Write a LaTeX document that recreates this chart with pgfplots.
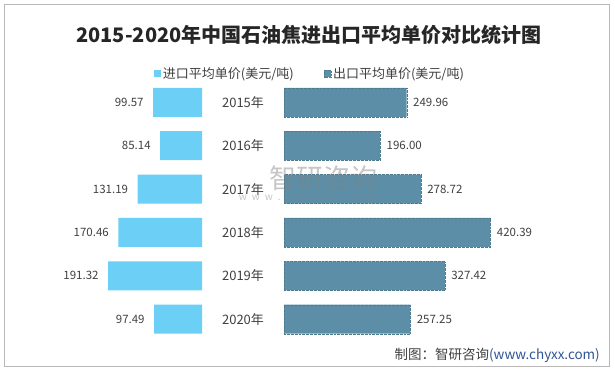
\documentclass[border=0pt]{standalone}
\usepackage{pgfplots}
\pgfplotsset{compat=1.18}
\usepackage{fontspec}
\setmainfont{Noto Sans CJK SC}
\definecolor{lightbar}{RGB}{108,207,246}
\definecolor{darkbar}{RGB}{92,143,167}
\definecolor{txt}{RGB}{64,64,64}
\definecolor{srcblue}{RGB}{47,85,151}
\begin{document}
\begin{tikzpicture}
\path[use as bounding box] (0bp,0bp) rectangle (615bp,371bp);
\draw[gray!55, line width=0.8bp] (4.5bp,4.5bp) rectangle (609.5bp,366.5bp);
\node[font=\fontsize{20bp}{24bp}\selectfont\bfseries, text=black!85] at (309bp,336bp) {2015-2020年中国石油焦进出口平均单价对比统计图};

\begin{axis}[
  at={(202bp,290.4bp)}, anchor=north east,
  scale only axis, width=192bp, height=260.3bp,
  xbar, bar width=29bp, x dir=reverse, y dir=reverse,
  xmin=0, xmax=391, ymin=-0.5, ymax=5.5,
  axis line style={draw=none}, xtick=\empty, ytick=\empty,
  clip=false,
  /pgf/number format/assume math mode=true,
  point meta=x,
  nodes near coords={\pgfmathprintnumber[fixed,fixed zerofill,precision=2]{\pgfplotspointmeta}},
  every node near coord/.append style={font=\fontsize{11.5bp}{13bp}\selectfont, text=txt, anchor=east, xshift=-6bp},
]
\addplot[fill=lightbar, draw=none] coordinates {(99.57,0) (85.14,1) (131.19,2) (170.46,3) (191.32,4) (97.49,5)};
\end{axis}

\begin{axis}[
  at={(284bp,290.4bp)}, anchor=north west,
  scale only axis, width=316bp, height=260.3bp,
  xbar, bar width=29bp, y dir=reverse,
  xmin=0, xmax=643.6, ymin=-0.5, ymax=5.5,
  axis line style={draw=none}, xtick=\empty,
  ytick={0,1,2,3,4,5},
  yticklabels={2015年,2016年,2017年,2018年,2019年,2020年},
  major tick length=0pt,
  yticklabel style={anchor=center, xshift=-41bp, font=\fontsize{13bp}{15bp}\selectfont, text=txt},
  clip=false,
  /pgf/number format/assume math mode=true,
  point meta=x,
  nodes near coords={\pgfmathprintnumber[fixed,fixed zerofill,precision=2]{\pgfplotspointmeta}},
  every node near coord/.append style={font=\fontsize{11.5bp}{13bp}\selectfont, text=txt, anchor=west, xshift=3bp},
  legend columns=2,
  legend style={at={(0.082,1.026)}, anchor=center, draw=none, fill=none,
    font=\fontsize{13bp}{15bp}\selectfont, text=txt,
    /tikz/every even column/.append style={column sep=28bp}},
  legend image code/.code={\fill[#1] (0bp,-3.5bp) rectangle (7bp,3.5bp);},
]
\addlegendimage{fill=lightbar, draw=none}
\addlegendentry{进口平均单价(美元/吨)}
\addplot[fill=darkbar, draw=darkbar!85!black, densely dotted, line width=0.35bp] coordinates {(249.96,0) (196.00,1) (278.72,2) (420.39,3) (327.42,4) (257.25,5)};
\addlegendentry{出口平均单价(美元/吨)}
\end{axis}

\node[font=\fontsize{27bp}{30bp}\selectfont, text=gray, opacity=0.45] at (323bp,193bp) {智研咨询};
\node[font=\fontsize{10bp}{11bp}\selectfont, text=gray, opacity=0.45] at (307bp,173bp) {w\hspace{5bp}w\hspace{5bp}w\hspace{5bp}.\hspace{5bp}c\hspace{5bp}h\hspace{5bp}y\hspace{5bp}x\hspace{5bp}x\hspace{5bp}.\hspace{5bp}c\hspace{5bp}o\hspace{5bp}m};
\node[anchor=east, font=\fontsize{13.5bp}{16bp}\selectfont, inner sep=0pt] at (600bp,16bp) {\textcolor{txt}{制图：智研咨询}\textcolor{srcblue}{(www.chyxx.com)}};
\end{tikzpicture}
\end{document}
